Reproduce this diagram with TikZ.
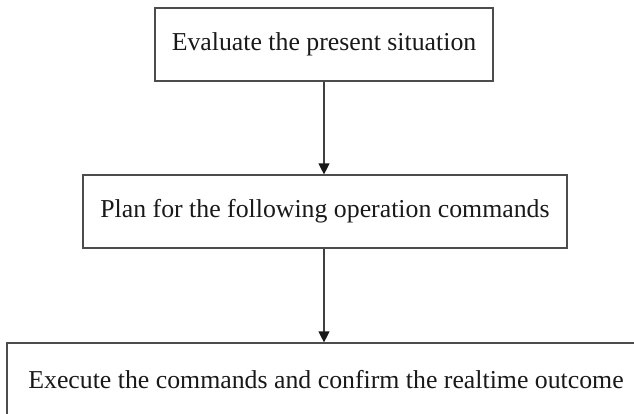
\documentclass[tikz,border=0pt]{standalone}
\usepackage{fontspec}
\setmainfont{Liberation Serif}
\usetikzlibrary{arrows.meta}
\begin{document}
\begin{tikzpicture}[
  x=1pt,y=1pt,
  stepbox/.style={draw=black!70, line width=1.2pt, inner sep=0pt, minimum height=73pt,
    font=\fontsize{25.8}{30}\selectfont, text=black!90},
  arr/.style={draw=black!75, line width=1.3pt, -{Triangle[width=11pt,length=11pt,color=black!90]}}
]
\clip (0,0) rectangle (634,-414);
\node[stepbox, minimum width=338pt] (n1) at (324,-44.5) {Evaluate the present situation};
\node[stepbox, minimum width=484pt] (n2) at (325,-211.5) {Plan for the following operation commands};
\node[stepbox, minimum width=638pt] (n3) at (326,-379.5) {Execute the commands and confirm the realtime outcome};
\draw[arr] (n1.south) -- (n2.north -| n1.south);
\draw[arr] (n2.south -| n1.south) -- (n3.north -| n1.south);
\end{tikzpicture}
\end{document}
